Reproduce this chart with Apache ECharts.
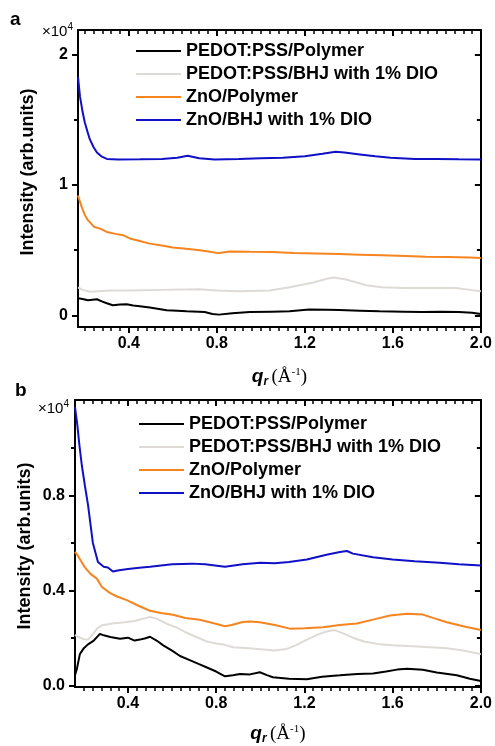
<!DOCTYPE html>
<html><head><meta charset="utf-8">
<script src="https://cdn.jsdelivr.net/npm/echarts@6/dist/echarts.min.js"></script>
<style>html,body{margin:0;padding:0;background:#fff}#c{width:495px;height:746px}</style>
</head><body><div id="c"></div>
<script>
// ---------- DATA (values in units of 10^4) ----------
const seriesNames = ['PEDOT:PSS/Polymer', 'PEDOT:PSS/BHJ with 1% DIO', 'ZnO/Polymer', 'ZnO/BHJ with 1% DIO'];
const seriesColors = ['#000000', '#dedbd6', '#f6841f', '#1010c6'];

// panel a
const aBlack = [[0.169,0.13],[0.19,0.125],[0.214,0.115],[0.235,0.12],[0.255,0.123],[0.28,0.105],[0.30,0.092],[0.327,0.077],[0.36,0.082],[0.39,0.085],[0.42,0.075],[0.45,0.07],[0.495,0.06],[0.53,0.05],[0.572,0.038],[0.62,0.034],[0.663,0.03],[0.745,0.025],[0.78,0.01],[0.81,0.005],[0.87,0.015],[0.95,0.025],[1.05,0.028],[1.13,0.03],[1.22,0.045],[1.3,0.042],[1.356,0.04],[1.45,0.035],[1.54,0.03],[1.65,0.028],[1.733,0.025],[1.82,0.027],[1.9,0.025],[1.96,0.02],[2.0,0.01]];
const aGray = [[0.169,0.215],[0.19,0.195],[0.223,0.18],[0.26,0.185],[0.32,0.19],[0.41,0.19],[0.55,0.195],[0.72,0.2],[0.80,0.19],[0.9,0.185],[1.04,0.19],[1.13,0.215],[1.234,0.25],[1.3,0.28],[1.334,0.29],[1.388,0.275],[1.44,0.25],[1.479,0.23],[1.55,0.215],[1.65,0.21],[1.733,0.21],[1.887,0.21],[1.95,0.195],[2.0,0.185]];
const aOrange = [[0.169,0.92],[0.186,0.83],[0.2,0.77],[0.214,0.73],[0.241,0.68],[0.269,0.665],[0.3,0.64],[0.34,0.625],[0.373,0.615],[0.377,0.628],[0.405,0.59],[0.45,0.57],[0.495,0.55],[0.55,0.535],[0.6,0.52],[0.66,0.51],[0.722,0.50],[0.77,0.488],[0.804,0.477],[0.858,0.49],[0.95,0.487],[1.05,0.485],[1.15,0.478],[1.25,0.474],[1.356,0.47],[1.45,0.465],[1.55,0.46],[1.66,0.455],[1.75,0.45],[1.85,0.447],[1.95,0.443],[2.0,0.44]];
const aBlue = [[0.169,1.83],[0.178,1.68],[0.19,1.56],[0.20,1.48],[0.212,1.41],[0.223,1.35],[0.24,1.29],[0.255,1.25],[0.275,1.22],[0.30,1.20],[0.35,1.195],[0.45,1.197],[0.55,1.20],[0.62,1.21],[0.667,1.225],[0.72,1.205],[0.79,1.195],[0.9,1.2],[1.0,1.205],[1.1,1.21],[1.2,1.22],[1.28,1.24],[1.34,1.256],[1.38,1.25],[1.45,1.235],[1.52,1.22],[1.59,1.21],[1.7,1.2],[1.8,1.2],[1.9,1.197],[2.0,1.195]];

// panel b
const bBlack = [[0.16,0.045],[0.169,0.073],[0.182,0.133],[0.2,0.158],[0.219,0.174],[0.245,0.19],[0.273,0.218],[0.29,0.212],[0.32,0.205],[0.364,0.198],[0.4,0.202],[0.43,0.19],[0.454,0.194],[0.48,0.2],[0.5,0.206],[0.53,0.19],[0.56,0.17],[0.6,0.148],[0.636,0.125],[0.68,0.108],[0.72,0.092],[0.758,0.077],[0.8,0.06],[0.84,0.04],[0.876,0.044],[0.908,0.05],[0.953,0.048],[0.998,0.057],[1.03,0.045],[1.057,0.036],[1.13,0.03],[1.211,0.028],[1.28,0.038],[1.361,0.044],[1.44,0.05],[1.511,0.052],[1.57,0.06],[1.62,0.068],[1.665,0.072],[1.737,0.067],[1.8,0.056],[1.891,0.044],[1.95,0.03],[2.0,0.02]];
const bGray = [[0.16,0.214],[0.175,0.205],[0.2,0.196],[0.219,0.194],[0.24,0.215],[0.26,0.24],[0.282,0.254],[0.33,0.262],[0.386,0.267],[0.43,0.272],[0.47,0.282],[0.5,0.289],[0.53,0.282],[0.577,0.26],[0.62,0.245],[0.658,0.226],[0.71,0.205],[0.758,0.186],[0.8,0.178],[0.84,0.172],[0.876,0.162],[0.95,0.158],[1.0,0.153],[1.066,0.148],[1.12,0.155],[1.16,0.17],[1.211,0.194],[1.26,0.215],[1.3,0.228],[1.338,0.234],[1.37,0.222],[1.42,0.202],[1.47,0.186],[1.542,0.174],[1.6,0.17],[1.692,0.166],[1.77,0.162],[1.846,0.158],[1.92,0.148],[2.0,0.133]];
const bOrange = [[0.16,0.562],[0.17,0.55],[0.19,0.52],[0.205,0.497],[0.23,0.47],[0.259,0.45],[0.282,0.415],[0.318,0.39],[0.35,0.375],[0.395,0.36],[0.45,0.335],[0.5,0.315],[0.55,0.306],[0.604,0.298],[0.66,0.285],[0.726,0.277],[0.78,0.265],[0.84,0.25],[0.87,0.255],[0.92,0.268],[0.953,0.27],[0.998,0.267],[1.066,0.255],[1.134,0.24],[1.2,0.242],[1.284,0.246],[1.36,0.255],[1.438,0.262],[1.52,0.28],[1.588,0.295],[1.665,0.303],[1.737,0.299],[1.79,0.283],[1.846,0.267],[1.92,0.25],[2.0,0.234]];
const bBlue = [[0.16,1.17],[0.17,1.1],[0.18,1.01],[0.191,0.925],[0.205,0.84],[0.219,0.76],[0.241,0.60],[0.264,0.52],[0.29,0.50],[0.309,0.497],[0.332,0.48],[0.36,0.485],[0.40,0.49],[0.463,0.497],[0.5,0.50],[0.55,0.505],[0.6,0.51],[0.69,0.513],[0.75,0.51],[0.84,0.50],[0.92,0.51],[1.0,0.517],[1.066,0.515],[1.13,0.52],[1.211,0.53],[1.3,0.55],[1.361,0.562],[1.393,0.566],[1.42,0.555],[1.511,0.54],[1.6,0.53],[1.7,0.523],[1.814,0.517],[1.9,0.51],[2.0,0.505]];

// ticks
const xMajorTicks = [0.4, 0.8, 1.2, 1.6, 2.0];
const aYMajorTicks = [0, 1, 2];
const aYMinorTicks = [0.5, 1.5];
const bYMajorTicks = [0.0, 0.4, 0.8];
const bYMinorTicks = [0.2, 0.6, 1.0];

// ---------- CHART ----------
const xMinorTicks = [];
for (let i = 5; i <= 49; i++) { if (i % 10 !== 0) xMinorTicks.push(i * 4 / 100); }

const SANS = '"Liberation Sans", Arial, sans-serif';
const SERIF = '"Liberation Serif", "Times New Roman", serif';
const BLK = '#000';
const LINE = { show: true, onZero: false, lineStyle: { color: BLK, width: 2 } };

function xAxes(g, min, nameGap) {
  const base = { gridIndex: g, type: 'value', min: min, max: 2.0, splitLine: { show: false }, axisLine: LINE };
  return [
    Object.assign({}, base, {
      position: 'bottom',
      axisTick: { show: true, inside: false, length: 6, customValues: xMajorTicks, lineStyle: { color: BLK, width: 2 } },
      axisLabel: { show: true, customValues: xMajorTicks, formatter: v => v.toFixed(1), fontSize: 16, fontWeight: 'bold', color: BLK, fontFamily: SANS, margin: 9 },
      name: '{q|q}{r|r} {p|(Å}{s|-1}{p|)}', nameLocation: 'middle', nameGap: nameGap,
      nameTextStyle: { rich: {
        q: { fontSize: 19, fontWeight: 'bold', fontStyle: 'italic', fontFamily: SANS, color: BLK, lineHeight: 24, verticalAlign: 'middle' },
        r: { fontSize: 12, fontWeight: 'bold', fontStyle: 'italic', fontFamily: SANS, color: BLK, padding: [10, 0, 0, 0] },
        p: { fontSize: 19, fontFamily: SERIF, color: BLK, lineHeight: 24 },
        s: { fontSize: 11, fontFamily: SERIF, color: BLK, padding: [0, 0, 10, 0] }
      } }
    }),
    Object.assign({}, base, {
      position: 'bottom',
      axisTick: { show: true, inside: false, length: 4, customValues: xMinorTicks, lineStyle: { color: BLK, width: 1.5 } },
      axisLabel: { show: false }
    }),
    Object.assign({}, base, {
      position: 'top',
      axisTick: { show: true, inside: true, length: 6, customValues: xMajorTicks, lineStyle: { color: BLK, width: 2 } },
      axisLabel: { show: false }
    }),
    Object.assign({}, base, {
      position: 'top',
      axisTick: { show: true, inside: true, length: 4, customValues: xMinorTicks, lineStyle: { color: BLK, width: 1.5 } },
      axisLabel: { show: false }
    })
  ];
}

function yAxes(g, min, max, majors, minors, fmt) {
  const base = { gridIndex: g, type: 'value', min: min, max: max, splitLine: { show: false }, axisLine: LINE };
  return [
    Object.assign({}, base, {
      position: 'left',
      axisTick: { show: true, inside: false, length: 6, customValues: majors, lineStyle: { color: BLK, width: 2 } },
      axisLabel: { show: true, customValues: majors, formatter: fmt, fontSize: 16, fontWeight: 'bold', color: BLK, fontFamily: SANS, margin: 10 }
    }),
    Object.assign({}, base, {
      position: 'left',
      axisTick: { show: true, inside: false, length: 4, customValues: minors, lineStyle: { color: BLK, width: 2 } },
      axisLabel: { show: false }
    }),
    Object.assign({}, base, {
      position: 'right',
      axisTick: { show: true, inside: true, length: 6, customValues: majors, lineStyle: { color: BLK, width: 2 } },
      axisLabel: { show: false }
    }),
    Object.assign({}, base, {
      position: 'right',
      axisTick: { show: true, inside: true, length: 4, customValues: minors, lineStyle: { color: BLK, width: 2 } },
      axisLabel: { show: false }
    })
  ];
}

const panelA = [aBlack, aGray, aOrange, aBlue];
const panelB = [bBlack, bGray, bOrange, bBlue];

const series = [];
[panelA, panelB].forEach((panel, g) => {
  panel.forEach((data, i) => {
    series.push({
      name: seriesNames[i], type: 'line', xAxisIndex: g * 4, yAxisIndex: g * 4,
      data: data, symbol: 'none', smooth: false, animation: false,
      lineStyle: { color: seriesColors[i], width: 2 }, itemStyle: { color: seriesColors[i] }
    });
  });
});

const legendBase = {
  orient: 'vertical', icon: 'rect', itemWidth: 45, itemHeight: 2, itemGap: 3,
  textStyle: { fontSize: 18, fontWeight: 'bold', fontFamily: SANS, color: BLK, lineHeight: 20 },
  data: seriesNames, selectedMode: false
};

function timesTen(xRight, yBottom) {
  return {
    type: 'text', x: xRight, y: yBottom,
    style: { text: '{a|×10}{b|4}', align: 'right', verticalAlign: 'bottom', textAlign: 'right', textVerticalAlign: 'bottom',
      rich: { a: { fontSize: 15, fontFamily: SANS, fill: BLK, color: BLK }, b: { fontSize: 10, fontFamily: SANS, fill: BLK, color: BLK, padding: [0, 0, 9, 0] } } }
  };
}
function yTitle(x, y) {
  return { type: 'text', x: x, y: y, rotation: Math.PI / 2,
    style: { text: 'Intensity (arb.units)', font: 'bold 18px ' + SANS, fill: BLK, align: 'center', verticalAlign: 'middle', textAlign: 'center', textVerticalAlign: 'middle' } };
}

const chart = echarts.init(document.getElementById('c'), null, { renderer: 'canvas' });
chart.setOption({
  animation: false,
  backgroundColor: '#fff',
  grid: [
    { left: 78, top: 30, width: 405, height: 297, containLabel: false },
    { left: 75, top: 400, width: 406, height: 298, containLabel: false }
  ],
  xAxis: xAxes(0, 0.169, 38).concat(xAxes(1, 0.16, 35)),
  yAxis: yAxes(0, -0.09, 2.19, aYMajorTicks, aYMinorTicks, v => String(Math.round(v)))
    .concat(yAxes(1, -0.005, 1.2, bYMajorTicks, bYMinorTicks, v => v.toFixed(1))),
  legend: [
    Object.assign({}, legendBase, { left: 131, top: 36 }),
    Object.assign({}, legendBase, { left: 134, top: 409 })
  ],
  series: series,
  graphic: [
    { type: 'text', x: 10, y: 10, style: { text: 'a', font: 'bold 19px ' + SANS, fill: BLK } },
    { type: 'text', x: 15, y: 381, style: { text: 'b', font: 'bold 19px ' + SANS, fill: BLK } },
    timesTen(73, 41),
    timesTen(69, 418),
    yTitle(28, 172),
    yTitle(25, 546)
  ]
});
</script>
</body></html>
